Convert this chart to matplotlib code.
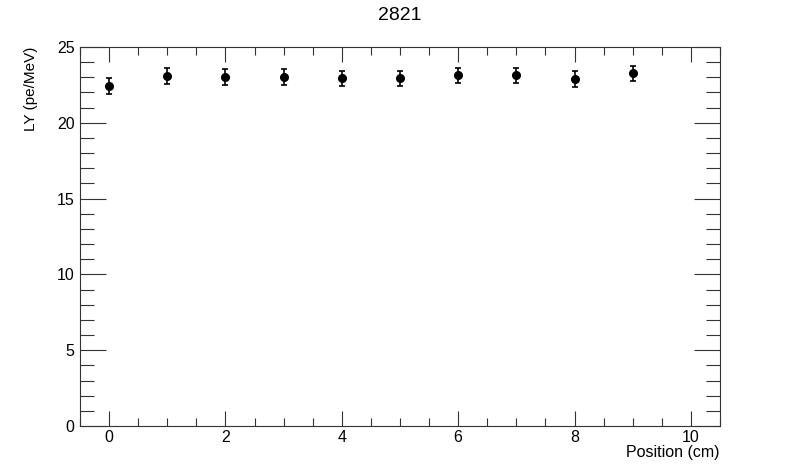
import matplotlib
matplotlib.use('Agg')
import matplotlib.pyplot as plt
import numpy as np
from matplotlib.ticker import MultipleLocator

plt.rcParams['font.family'] = ['Liberation Sans', 'DejaVu Sans']

position = [0, 1, 2, 3, 4, 5, 6, 7, 8, 9]
ly = [22.43, 23.09, 23.02, 23.02, 22.95, 22.95, 23.13, 23.13, 22.89, 23.28]
ly_err = [0.52, 0.50, 0.50, 0.50, 0.50, 0.50, 0.50, 0.50, 0.50, 0.50]

fig = plt.figure(figsize=(8, 4.74), dpi=100)
ax = fig.add_axes([0.1, 0.1013, 0.8, 0.7995])

ax.errorbar(position, ly, yerr=ly_err, fmt='o', color='black', ms=5.5,
            elinewidth=1.2, capsize=2, capthick=1.2)

ax.set_xlim(-0.5, 10.5)
ax.set_ylim(0, 25)
ax.xaxis.set_major_locator(MultipleLocator(2))
ax.xaxis.set_minor_locator(MultipleLocator(0.5))
ax.yaxis.set_major_locator(MultipleLocator(5))
ax.yaxis.set_minor_locator(MultipleLocator(1))

ax.tick_params(axis='both', which='both', direction='in', top=True, right=True,
               labelsize=11.5, color='#333333', width=0.8)
ax.tick_params(axis='x', which='major', length=11, pad=3)
ax.tick_params(axis='x', which='minor', length=6)
ax.tick_params(axis='y', which='major', length=19, pad=4)
ax.tick_params(axis='y', which='minor', length=10)
for s in ax.spines.values():
    s.set_linewidth(0.8)
    s.set_color('#333333')

fig.text(0.5, 0.967, '2821', ha='center', va='center', fontsize=14)
ax.set_xlabel('Position (cm)', fontsize=11.5, ha='right')
ax.xaxis.set_label_coords(1.0, -0.05)
ax.set_ylabel('LY (pe/MeV)', fontsize=11, ha='right')
ax.yaxis.set_label_coords(-0.065, 1.0)

fig.savefig('out.png', dpi=100)
